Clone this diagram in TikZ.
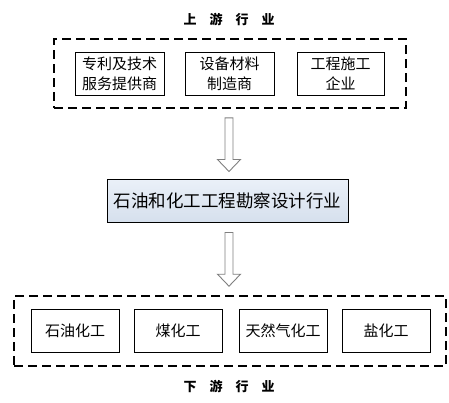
\documentclass[tikz,border=0pt]{standalone}
\usepackage{fontspec}
\setmainfont{Noto Sans CJK SC}
\usetikzlibrary{calc}
\definecolor{midtop}{HTML}{EAF0F8}
\definecolor{midbot}{HTML}{D6E0ED}
\definecolor{arrowgray}{HTML}{7F7F7F}
\tikzset{
  x=1pt,y=-1pt,
  item/.style={draw=black,line width=0.9pt,inner sep=0pt,align=center,font=\fontsize{15}{20}\selectfont},
  group/.style={draw=black,line width=1.6pt,dash pattern=on 9pt off 5pt,inner sep=0pt},
  title/.style={font=\fontsize{13}{15}\selectfont\bfseries},
  midbox/.style={draw=black,line width=1pt,top color=midtop,bottom color=midbot,inner sep=0pt,font=\fontsize{17.5}{20}\selectfont},
  hollow/.style={draw=arrowgray,line width=0.9pt,fill=white}
}
\newcommand{\blockarrow}[2]{%
  \path let \p1=(#1), \p2=(#2) in
    coordinate (ba1) at (\x1-4,\y1) coordinate (ba2) at (\x1+4,\y1)
    coordinate (ba3) at (\x1+4,\y2+12) coordinate (ba4) at (\x1+11.5,\y2+12)
    coordinate (ba5) at (\x1,\y2) coordinate (ba6) at (\x1-11.5,\y2+12)
    coordinate (ba7) at (\x1-4,\y2+12);
  \draw[hollow] (ba1)--(ba2)--(ba3)--(ba4)--(ba5)--(ba6)--(ba7)--cycle;}
\begin{document}
\begin{tikzpicture}
\useasboundingbox (0,0) rectangle (449,402);
\node[title] (uptitle) at (229,19) {上\quad 游\quad 行\quad 业};
\node[group,minimum width=352pt,minimum height=69pt] (up) at (230,73.5) {};
\node[item,minimum width=89pt,minimum height=43pt] (u1) at (119.5,73.5) {专利及技术\\服务提供商};
\node[item,minimum width=89pt,minimum height=43pt] (u2) at (229.5,73.5) {设备材料\\制造商};
\node[item,minimum width=87pt,minimum height=43pt] (u3) at (340.5,73.5) {工程施工\\企业};
\node[midbox,minimum width=241pt,minimum height=43pt] (mid) at (227.5,200.5) {石油和化工工程勘察设计行业};
\node[group,minimum width=432pt,minimum height=70pt] (down) at (230,331) {};
\node[item,minimum width=88pt,minimum height=43pt] (d1) at (75,330.5) {石油化工};
\node[item,minimum width=88pt,minimum height=43pt] (d2) at (178,330.5) {煤化工};
\node[item,minimum width=88pt,minimum height=43pt] (d3) at (283,330.5) {天然气化工};
\node[item,minimum width=88pt,minimum height=43pt] (d4) at (386,330.5) {盐化工};
\node[title] (downtitle) at (229,386) {下\quad 游\quad 行\quad 业};
\coordinate (a1s) at ($(up.south)+(-1,9)$);
\coordinate (a1e) at ($(mid.north)+(1.5,-7)$);
\blockarrow{a1s}{a1e}
\coordinate (a2s) at ($(mid.south)+(1.5,10)$);
\coordinate (a2e) at ($(down.north)+(0,-9)$);
\blockarrow{a2s}{a2e}
\end{tikzpicture}
\end{document}
